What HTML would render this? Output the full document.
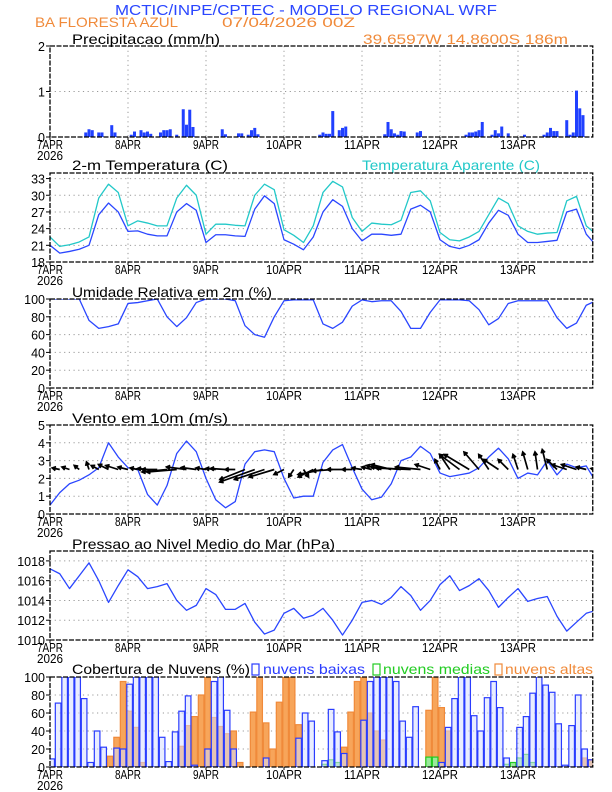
<!DOCTYPE html>
<html><head><meta charset="utf-8"><style>
html,body{margin:0;padding:0;background:#fff}
svg{display:block}
text{font-family:"Liberation Sans",sans-serif}
</style></head><body>
<svg id="chart" width="612" height="792" viewBox="0 0 612 792" xmlns="http://www.w3.org/2000/svg">
<rect x="0" y="0" width="612" height="792" fill="#fff"/>
<text x="306" y="15" text-anchor="middle" font-size="15" fill="#2a46ff" textLength="382" lengthAdjust="spacingAndGlyphs">MCTIC/INPE/CPTEC - MODELO REGIONAL WRF</text>
<text x="35" y="27" font-size="14" fill="#f08a3a" textLength="143" lengthAdjust="spacingAndGlyphs">BA FLORESTA AZUL</text>
<text x="222" y="27" font-size="14" fill="#f08a3a" textLength="133" lengthAdjust="spacingAndGlyphs">07/04/2026 00Z</text>
<text x="363" y="44" font-size="14" fill="#f08a3a" textLength="205" lengthAdjust="spacingAndGlyphs">39.6597W 14.8600S 186m</text>
<g id="plots"></g>
</svg>
<script>
// ---- data (hour index from 07APR 00Z) ----
const dayLabels = ["7APR","8APR","9APR","10APR","11APR","12APR","13APR"];
const step3 = 3;
const precipHours = [11,12,13,15,16,19,20,25,26,28,29,30,31,34,35,36,37,39,41,42,43,44,53,54,58,59,61,62,63,64,83,84,85,86,87,89,90,91,103,104,105,106,107,108,109,113,114,128,129,130,131,132,133,136,137,138,139,141,146,152,153,154,155,156,159,160,161,162,163,164];
const precipVals  = [0.1,0.17,0.15,0.1,0.1,0.26,0.1,0.05,0.12,0.15,0.1,0.12,0.07,0.1,0.15,0.15,0.17,0.05,0.61,0.27,0.6,0.22,0.17,0.06,0.08,0.08,0.05,0.15,0.2,0.06,0.05,0.1,0.07,0.07,0.57,0.15,0.2,0.23,0.06,0.33,0.17,0.08,0.05,0.13,0.12,0.1,0.13,0.05,0.1,0.1,0.12,0.15,0.33,0.05,0.15,0.08,0.23,0.08,0.05,0.05,0.1,0.2,0.13,0.13,0.37,0.05,0.1,1.02,0.63,0.48];
const tempVals = [21.0,19.6,19.9,20.3,21.0,26.5,28.6,27.0,23.5,23.6,23.0,22.7,22.7,27.0,28.5,27.3,21.5,22.9,22.9,22.7,22.6,27.5,29.9,28.5,22.0,21.2,20.2,22.5,27.0,29.2,28.0,24.0,21.8,23.0,23.0,22.8,23.0,27.5,28.2,27.0,22.0,20.8,20.4,21.0,22.0,25.0,27.3,26.4,23.0,21.5,21.5,21.7,21.9,27.0,27.5,23.0,21.0];
const apparentVals = [22.5,20.8,21.1,21.6,22.5,29.5,32.0,30.5,24.5,25.4,25.0,24.5,24.5,29.5,31.8,30.0,23.0,24.8,24.8,24.6,24.5,30.0,32.0,31.0,23.8,22.8,21.5,24.5,30.5,32.5,31.5,26.0,23.5,25.0,24.8,24.7,25.5,30.5,30.8,29.0,23.3,22.0,21.8,22.5,23.5,26.5,29.5,28.5,24.5,23.5,23.0,23.2,23.3,29.0,29.8,24.5,23.0];
const rhVals = [100,100,100,100,76,67,69,72,95,96,98,100,80,69,79,96,100,100,100,98,70,60,57,80,98,99,99,99,72,67,74,92,99,97,98,98,86,67,67,85,99,99,99,98,88,71,78,95,98,98,98,98,79,67,73,93,98];
const windSpeed = [0.5,1.2,1.7,1.9,2.2,2.6,4.0,3.2,2.6,2.5,1.1,0.5,1.6,3.4,4.1,3.5,2.0,0.8,0.35,0.7,2.8,3.5,3.6,3.5,2.0,0.9,1.0,1.0,2.9,3.6,3.9,2.6,1.4,0.8,0.95,1.7,3.0,3.2,3.8,3.4,2.3,2.1,2.2,2.3,2.6,3.2,3.7,3.1,2.0,2.3,2.2,3.0,2.2,2.8,2.6,2.7,1.8];
const windU = [-1,-1.5,-1.5,-1,-0.5,-1.5,-2,-2.5,-2,-1.5,-2,-3,-5,-6,-4,-3,-2,-2,-3,-2,-5,-7,-6,-5,-2,-1,1,-3,-5,-4,-3,-2,-2,-2,-3,-4,-6,-7,-5,-3,-1,-2,-4,-5,-3,-2,-3,-2,-1,-1,-0.5,-1,-2,-3,-3,-2,-1];
const windV = [0.2,0.3,0.5,0.8,1.5,0.8,1,0.8,0.5,0.3,0.2,0,-0.5,-0.5,0.5,0.4,0.3,0.2,0.2,0,-2,-2.5,-2,-1.5,-1,-1.5,-1.5,-1.5,-1,-0.3,0,0,0.3,0.5,0.8,1,0.5,0.3,0.5,1,2,3,3,3,3.5,3,2,2,3,3.5,3.5,4,2,1,1,0.5,0.2];
const pressVals = [1017.2,1016.7,1015.2,1016.5,1017.8,1016.0,1013.8,1015.5,1017.1,1016.4,1015.2,1015.4,1015.7,1014.0,1013.0,1013.5,1015.2,1014.6,1013.1,1013.1,1013.7,1011.8,1010.6,1011.0,1012.7,1013.2,1012.2,1012.5,1013.2,1012.0,1010.5,1012.0,1013.8,1014.0,1013.6,1014.3,1015.4,1014.5,1013.0,1014.0,1015.6,1016.5,1015.0,1015.5,1016.2,1015.0,1013.3,1014.3,1015.2,1013.9,1014.2,1014.4,1012.4,1010.9,1011.8,1012.7,1013.0];
const step2 = 2;
const lowCloud = [9,71,100,100,100,76,5,40,22,0,21,20,92,100,100,100,100,33,6,39,62,79,2,0,20,95,100,63,20,0,0,0,0,10,0,0,0,0,32,60,51,0,7,64,39,15,0,0,52,95,100,100,100,95,51,33,67,0,0,0,5,44,76,100,100,57,40,77,95,66,10,0,44,56,82,100,91,83,48,2,46,80,20,8];
const midCloud = [0,0,0,0,0,0,0,0,0,0,0,0,0,0,0,0,0,0,0,0,0,0,0,0,0,0,0,0,0,0,0,0,0,0,0,0,0,0,0,0,0,0,3,8,5,0,0,0,0,0,0,0,0,0,0,0,0,0,11,11,0,0,0,0,0,0,0,0,0,0,3,5,10,14,5,0,0,0,0,0,0,0,0,0];
const highCloud = [0,0,0,0,0,0,0,0,0,12,33,95,62,44,5,0,0,0,0,0,23,46,56,80,100,55,45,37,40,5,0,61,100,49,20,72,100,100,47,0,0,0,0,0,0,22,61,95,100,60,40,30,0,0,0,0,0,0,63,100,66,40,0,0,0,0,0,0,0,0,0,0,0,0,0,0,0,0,0,0,0,0,10,8];

// ---- geometry ----
const X0 = 50, PXH = 3.25, XR = 592.75;
const NS = "http://www.w3.org/2000/svg";
const root = document.getElementById("plots");
function xS(h){ return X0 + h*PXH; }
function mk(tag, attrs, parent){
  const e = document.createElementNS(NS, tag);
  for (const k in attrs) e.setAttribute(k, attrs[k]);
  (parent||root).appendChild(e);
  return e;
}
function yScale(p){ return v => p.bottom - (v - p.min)/(p.max - p.min)*(p.bottom - p.top); }

const panels = [
 {key:"precip", top:46, bottom:137, min:0, max:2, ticks:[0,1,2], title:"Precipitacao (mm/h)", ty:44},
 {key:"temp", top:173, bottom:262, min:18, max:34, ticks:[18,21,24,27,30,33], title:"2-m Temperatura (C)", ty:170},
 {key:"rh", top:299, bottom:388, min:0, max:100, ticks:[0,20,40,60,80,100], title:"Umidade Relativa em 2m (%)", ty:297},
 {key:"wind", top:425, bottom:514, min:0, max:5, ticks:[0,1,2,3,4,5], title:"Vento em 10m (m/s)", ty:423},
 {key:"press", top:551, bottom:640, min:1010, max:1019, ticks:[1010,1012,1014,1016,1018], title:"Pressao ao Nivel Medio do Mar (hPa)", ty:549},
 {key:"cloud", top:677, bottom:767, min:0, max:100, ticks:[0,20,40,60,80,100], title:"Cobertura de Nuvens (%)", ty:674}
];
const titleW = {precip:148, temp:156, rh:200, wind:156, press:263, cloud:178};

panels.forEach(p => {
  const g = mk("g", {});
  
  
  p.g = g; p.y = yScale(p);
  const cp = mk("clipPath", {id:"clip-"+p.key}, g);
  mk("rect", {x:X0, y:p.top, width:XR-X0, height:p.bottom-p.top}, cp);
  p.ticks.forEach(t => {
    if (t === p.min || p.y(t) <= p.top+0.5) return;
    const l = mk("line", {x1:X0, x2:XR, y1:p.y(t), y2:p.y(t), stroke:"#999", "stroke-width":1, "stroke-dasharray":"1.2,3.5"}, g);
    
    
  });
  for (let d = 1; d < dayLabels.length; d++) {
    const l = mk("line", {x1:xS(d*24), x2:xS(d*24), y1:p.top, y2:p.bottom, stroke:"#999", "stroke-width":1, "stroke-dasharray":"1.2,3.5"}, g);
    
    
  }
  const tt = mk("text", {x:72, y:p.ty, "font-size":14, fill:"#000", textLength:titleW[p.key], lengthAdjust:"spacingAndGlyphs"}, g);
  tt.textContent = p.title;
  
  
  p.ticks.forEach(t => {
    const tx = mk("text", {x:45, y:p.y(t)+5, "font-size":12.5, "text-anchor":"end", fill:"#000"}, g);
    tx.textContent = t;
    
    
    const tk = mk("line", {x1:X0-4, x2:X0, y1:p.y(t), y2:p.y(t), stroke:"#000"}, g);
    
    
  });
  dayLabels.forEach((lab, d) => {
    const tx = mk("text", {x:xS(d*24), y:p.bottom+12, "font-size":12.5, "text-anchor":"middle", fill:"#000", textLength:lab.length>4?36:26, lengthAdjust:"spacingAndGlyphs"}, g);
    tx.textContent = lab;
    
    
    const tk = mk("line", {x1:xS(d*24), x2:xS(d*24), y1:p.bottom, y2:p.bottom+3, stroke:"#000"}, g);
    
    
  });
  const yr = mk("text", {x:xS(0), y:p.bottom+23, "font-size":12.5, "text-anchor":"middle", fill:"#000", textLength:26, lengthAdjust:"spacingAndGlyphs"}, g);
  yr.textContent = "2026";
  
  
  p.marks = mk("g", {"clip-path":"url(#clip-"+p.key+")"}, g);
});

function linePath(p, vals, step, color, name, w){
  let d = "";
  vals.forEach((v,i) => { d += (i?"L":"M") + xS(i*step).toFixed(2) + "," + p.y(v).toFixed(2); });
  const e = mk("path", {d:d, fill:"none", stroke:color, "stroke-width":w||1.3, "stroke-linejoin":"round"}, p.marks);
  
  
}

const P = panels[0];
precipHours.forEach((h,i) => {
  const b = mk("rect", {x:xS(h)-1.5, y:P.y(precipVals[i]), width:3, height:P.bottom-P.y(precipVals[i]), fill:"#2040ff"}, P.marks);
  
  
});
linePath(panels[1], apparentVals, step3, "#22c8c8", "apparent-temperature-line");
linePath(panels[1], tempVals, step3, "#2a46ff", "temperature-line");
const ta = mk("text", {x:362, y:170, "font-size":14, fill:"#22c8c8", textLength:178, lengthAdjust:"spacingAndGlyphs"}, panels[1].g);
ta.textContent = "Temperatura Aparente (C)";


linePath(panels[2], rhVals, step3, "#2a46ff", "humidity-line");
const W = panels[3];
linePath(W, windSpeed, step3, "#2a46ff", "wind-speed-line");
const AS = 5;
windU.forEach((u,i) => {
  const x1 = xS(i*step3), y1 = W.y(2.5);
  const x2 = x1 + u*AS, y2 = y1 - windV[i]*AS;
  const len = Math.hypot(x2-x1, y2-y1) || 1;
  const ux = (x2-x1)/len, uy = (y2-y1)/len;
  const hx1 = x2 - 3.5*ux - 2*uy, hy1 = y2 - 3.5*uy + 2*ux;
  const hx2 = x2 - 3.5*ux + 2*uy, hy2 = y2 - 3.5*uy - 2*ux;
  const a = mk("path", {d:`M${x1},${y1}L${x2},${y2}M${hx1},${hy1}L${x2},${y2}L${hx2},${hy2}`, stroke:"#000", "stroke-width":1.7, fill:"none"}, W.marks);
  
  
});
linePath(panels[4], pressVals, step3, "#2a46ff", "pressure-line");
const C = panels[5];
function bars(vals, fill, stroke, name){
  vals.forEach((v,i) => {
    if (v <= 0) return;
    const b = mk("rect", {x:xS(i*step2+0.5)-2.8, y:C.y(v), width:5.6, height:C.bottom-C.y(v), fill:fill, stroke:stroke, "stroke-width":1.2}, C.marks);
    
    
  });
}
bars(highCloud, "#f7a55a", "#f08a3a", "high-cloud-bar");
bars(midCloud, "#9be89b", "#22cc22", "mid-cloud-bar");
bars(lowCloud, "rgba(215,222,255,0.55)", "#2a3cff", "low-cloud-bar");
const leg = [[252,"#2a3cff","nuvens baixas",263,102],[373,"#22cc22","nuvens medias",383,107],[495,"#f08a3a","nuvens altas",505,88]];
leg.forEach(l => {
  const r = mk("rect", {x:l[0], y:664, width:7, height:11, fill:"none", stroke:l[1], "stroke-width":1.2}, C.g);
  
  
  const t = mk("text", {x:l[3], y:674, "font-size":14, fill:l[1], textLength:l[4], lengthAdjust:"spacingAndGlyphs"}, C.g);
  t.textContent = l[2];
  
  
});
panels.forEach(p => {
  const f = mk("rect", {x:X0, y:p.top, width:XR-X0, height:p.bottom-p.top, fill:"none", stroke:"#000", "stroke-width":1.3, "stroke-dasharray":"5,1.5"}, p.g);
  
  
});
</script>
</body></html>
